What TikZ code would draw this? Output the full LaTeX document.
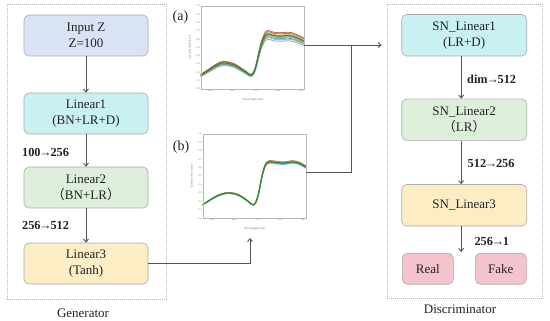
\documentclass[tikz,border=0pt]{standalone}
\usepackage{fontspec}
\setmainfont{Liberation Serif}
\newfontfamily\cjk{Noto Sans CJK SC}
\usetikzlibrary{arrows.meta}
\newcommand\tarr{\kern-1.2pt→\kern-1.2pt}
\definecolor{cblue}{HTML}{DAE3F3}
\definecolor{ccyan}{HTML}{C9F0F2}
\definecolor{cgreen}{HTML}{DDEFDB}
\definecolor{cyellow}{HTML}{FDEDC5}
\definecolor{cpink}{HTML}{F5C3CC}
\definecolor{boxgray}{HTML}{ABABAB}
\definecolor{framegray}{HTML}{B8B8B8}
\definecolor{linegray}{HTML}{555555}
\definecolor{tickgray}{HTML}{707070}
\definecolor{txt}{HTML}{222222}
\definecolor{k1}{HTML}{4FB7C0}
\definecolor{k2}{HTML}{E39A3C}
\definecolor{k3}{HTML}{5B7FC8}
\definecolor{k4}{HTML}{9AAA45}
\definecolor{k5}{HTML}{2E8B3E}
\definecolor{k6}{HTML}{D9C24A}
\definecolor{k7}{HTML}{C0503A}
\definecolor{k8}{HTML}{8C6E55}
\definecolor{k9}{HTML}{3FA062}
\def\specApath{plot[smooth,tension=0.55] coordinates {(460,0.165) (480,0.20) (500,0.235) (520,0.27) (540,0.30) (560,0.315) (580,0.31) (600,0.295) (620,0.27) (640,0.235) (660,0.20) (673,0.172) (683,0.168) (693,0.20) (703,0.28) (713,0.40) (723,0.51) (733,0.59) (743,0.645) (753,0.665) (765,0.66) (780,0.645) (800,0.64) (820,0.64) (840,0.645) (860,0.64) (880,0.62) (913,0.58)}}
\def\specBpath{plot[smooth,tension=0.55] coordinates {(460,0.16) (480,0.195) (500,0.23) (520,0.26) (540,0.283) (560,0.298) (580,0.30) (600,0.292) (620,0.272) (640,0.24) (660,0.20) (673,0.168) (683,0.16) (693,0.19) (703,0.27) (713,0.40) (723,0.53) (733,0.62) (743,0.66) (755,0.672) (770,0.668) (790,0.66) (810,0.655) (830,0.66) (850,0.67) (870,0.665) (890,0.645) (913,0.61)}}
\begin{document}
\begin{tikzpicture}[x=1pt,y=-1pt,
  blk/.style={draw=boxgray, line width=0.6pt, rounded corners=5pt, align=center,
    font=\fontsize{13}{16}\selectfont, text=txt, inner sep=0pt},
  gbox/.style={blk, minimum width=124pt, minimum height=41pt},
  dbox/.style={blk, minimum width=125pt, minimum height=41.5pt},
  outbox/.style={blk, minimum width=51pt, minimum height=31pt},
  framebox/.style={draw=framegray, line width=0.6pt, dash pattern=on 1.2pt off 0.8pt},
  conn/.style={draw=linegray, line width=0.9pt},
  arr/.style={conn, -{Straight Barb[length=3pt,width=5pt]}},
  dimlbl/.style={font=\bfseries\fontsize{12.3}{14}\selectfont, text=txt, anchor=west, inner sep=0pt},
  captxt/.style={font=\fontsize{13}{15}\selectfont, text=txt, inner sep=0pt},
  plotframe/.style={draw=framegray, line width=0.4pt, inner sep=0pt},
  ticklbl/.style={font=\fontsize{2.6}{3}\selectfont, text=tickgray, inner sep=0.5pt},
  axlbl/.style={font=\fontsize{3}{3.5}\selectfont, text=tickgray, inner sep=0pt},
  plbl/.style={font=\fontsize{14}{16}\selectfont, text=txt, inner sep=0pt},
  speccurve/.style={line width=0.9pt, opacity=0.8},
]
\useasboundingbox (0,0) rectangle (550,321);
\fill[white] (0,0) rectangle (550,321);

% frames
\draw[framebox] (7,4) rectangle (166,299);
\draw[framebox] (387,4) rectangle (542,298);

% generator
\node[gbox, fill=cblue] (in) at (86,35.5) {Input Z\\Z=100};
\node[gbox, fill=ccyan] (l1) at (86,113.5) {Linear1\\(BN+LR+D)};
\node[gbox, fill=cgreen] (l2) at (86,187.5) {Linear2\\{\cjk （}BN+LR{\cjk ）}};
\node[gbox, fill=cyellow] (l3) at (86,263.5) {Linear3\\(Tanh)};
\draw[arr] (in) -- (l1);
\draw[arr] (l1) -- (l2);
\draw[arr] (l2) -- (l3);
\node[dimlbl] (g1) at (22,152) {100\tarr256};
\node[dimlbl] (g2) at (22,225) {256\tarr512};
\node[captxt] (gcap) at (83,313) {Generator};

% discriminator
\node[dbox, fill=ccyan] (s1) at (464.2,35.3) {SN\_Linear1\\(LR+D)};
\node[dbox, fill=cgreen] (s2) at (464.2,119.7) {SN\_Linear2\\{\cjk （}LR{\cjk ）}};
\node[dbox, fill=cyellow] (s3) at (464.2,205.3) {SN\_Linear3};
\node[outbox, fill=cpink] (real) at (427.8,268.7) {Real};
\node[outbox, fill=cpink] (fake) at (500.8,268.7) {Fake};
\coordinate (dout) at (461.2,252);
\draw[arr] ([xshift=-3pt]s1.south) -- ([xshift=-3pt]s2.north);
\draw[arr] ([xshift=-3pt]s2.south) -- ([xshift=-3pt]s3.north);
\draw[arr] ([xshift=-3pt]s3.south) -- (dout);
\node[dimlbl] (d1) at (467,79) {dim\tarr512};
\node[dimlbl] (d2) at (467.5,163) {512\tarr256};
\node[dimlbl] (d3) at (474.3,241.7) {256\tarr1};
\node[captxt] (dcap) at (460,309.5) {Discriminator};

% plot (a)
\begin{scope}[x=0.228pt, y=83pt, xshift=95.8pt, yshift=-89pt]
  \foreach \s/\c in {0.90/k1,0.93/k2,0.95/k3,0.97/k4,1.02/k6,1.04/k8,1.06/k7,0.99/k9}{
    \draw[speccurve, \c, yscale=\s] \specApath;
  }
  \draw[line width=1pt, k5] \specApath;
  \foreach \v in {0.0,0.1,0.2,0.3,0.4,0.5,0.6,0.7,0.8,0.9,1.0}{
    \node[ticklbl, anchor=east] at (460,\v) {\v};
  }
  \foreach \w in {500,600,700,800,900}{
    \node[ticklbl, anchor=north] at (\w,0) {\w};
  }
  \node[axlbl, rotate=90] at (413,0.5) {Spectral reflectance};
  \node[axlbl] at (689,-0.13) {Wavelength (nm)};
\end{scope}
\node[plotframe, minimum width=103.3pt, minimum height=83pt] (pa) at (252.35,47.5) {};
\node[plbl] (la) at (180.5,17) {(a)};

% plot (b)
\begin{scope}[x=0.228pt, y=84.3pt, xshift=97.8pt, yshift=-218.3pt]
  \foreach \s/\c in {0.975/k1,0.985/k3,0.99/k2,1.01/k6,1.02/k7,1.015/k4,0.995/k9}{
    \draw[speccurve, \c, yscale=\s] \specBpath;
  }
  \draw[line width=1.1pt, k5] \specBpath;
  \foreach \v in {0.0,0.1,0.2,0.3,0.4,0.5,0.6,0.7,0.8,0.9,1.0}{
    \node[ticklbl, anchor=east] at (460,\v) {\v};
  }
  \foreach \w in {500,600,700,800,900}{
    \node[ticklbl, anchor=north] at (\w,0) {\w};
  }
  \node[axlbl, rotate=90] at (413,0.5) {Spectral reflectance};
  \node[axlbl] at (689,-0.12) {Wavelength (nm)};
\end{scope}
\node[plotframe, minimum width=103.3pt, minimum height=84.3pt] (pb) at (254.35,176.15) {};
\node[plbl] (lb) at (181,147) {(b)};

% connectors
\coordinate (bin) at (250,238);
\coordinate (din) at (381.7,45);
\coordinate (join) at (351,45);
\draw[arr] (l3.east) -| (bin);
\draw[arr] ([yshift=2.5pt]pa.east) -- (din);
\draw[conn] ([yshift=3.5pt]pb.east) -| (join);
\end{tikzpicture}
\end{document}
